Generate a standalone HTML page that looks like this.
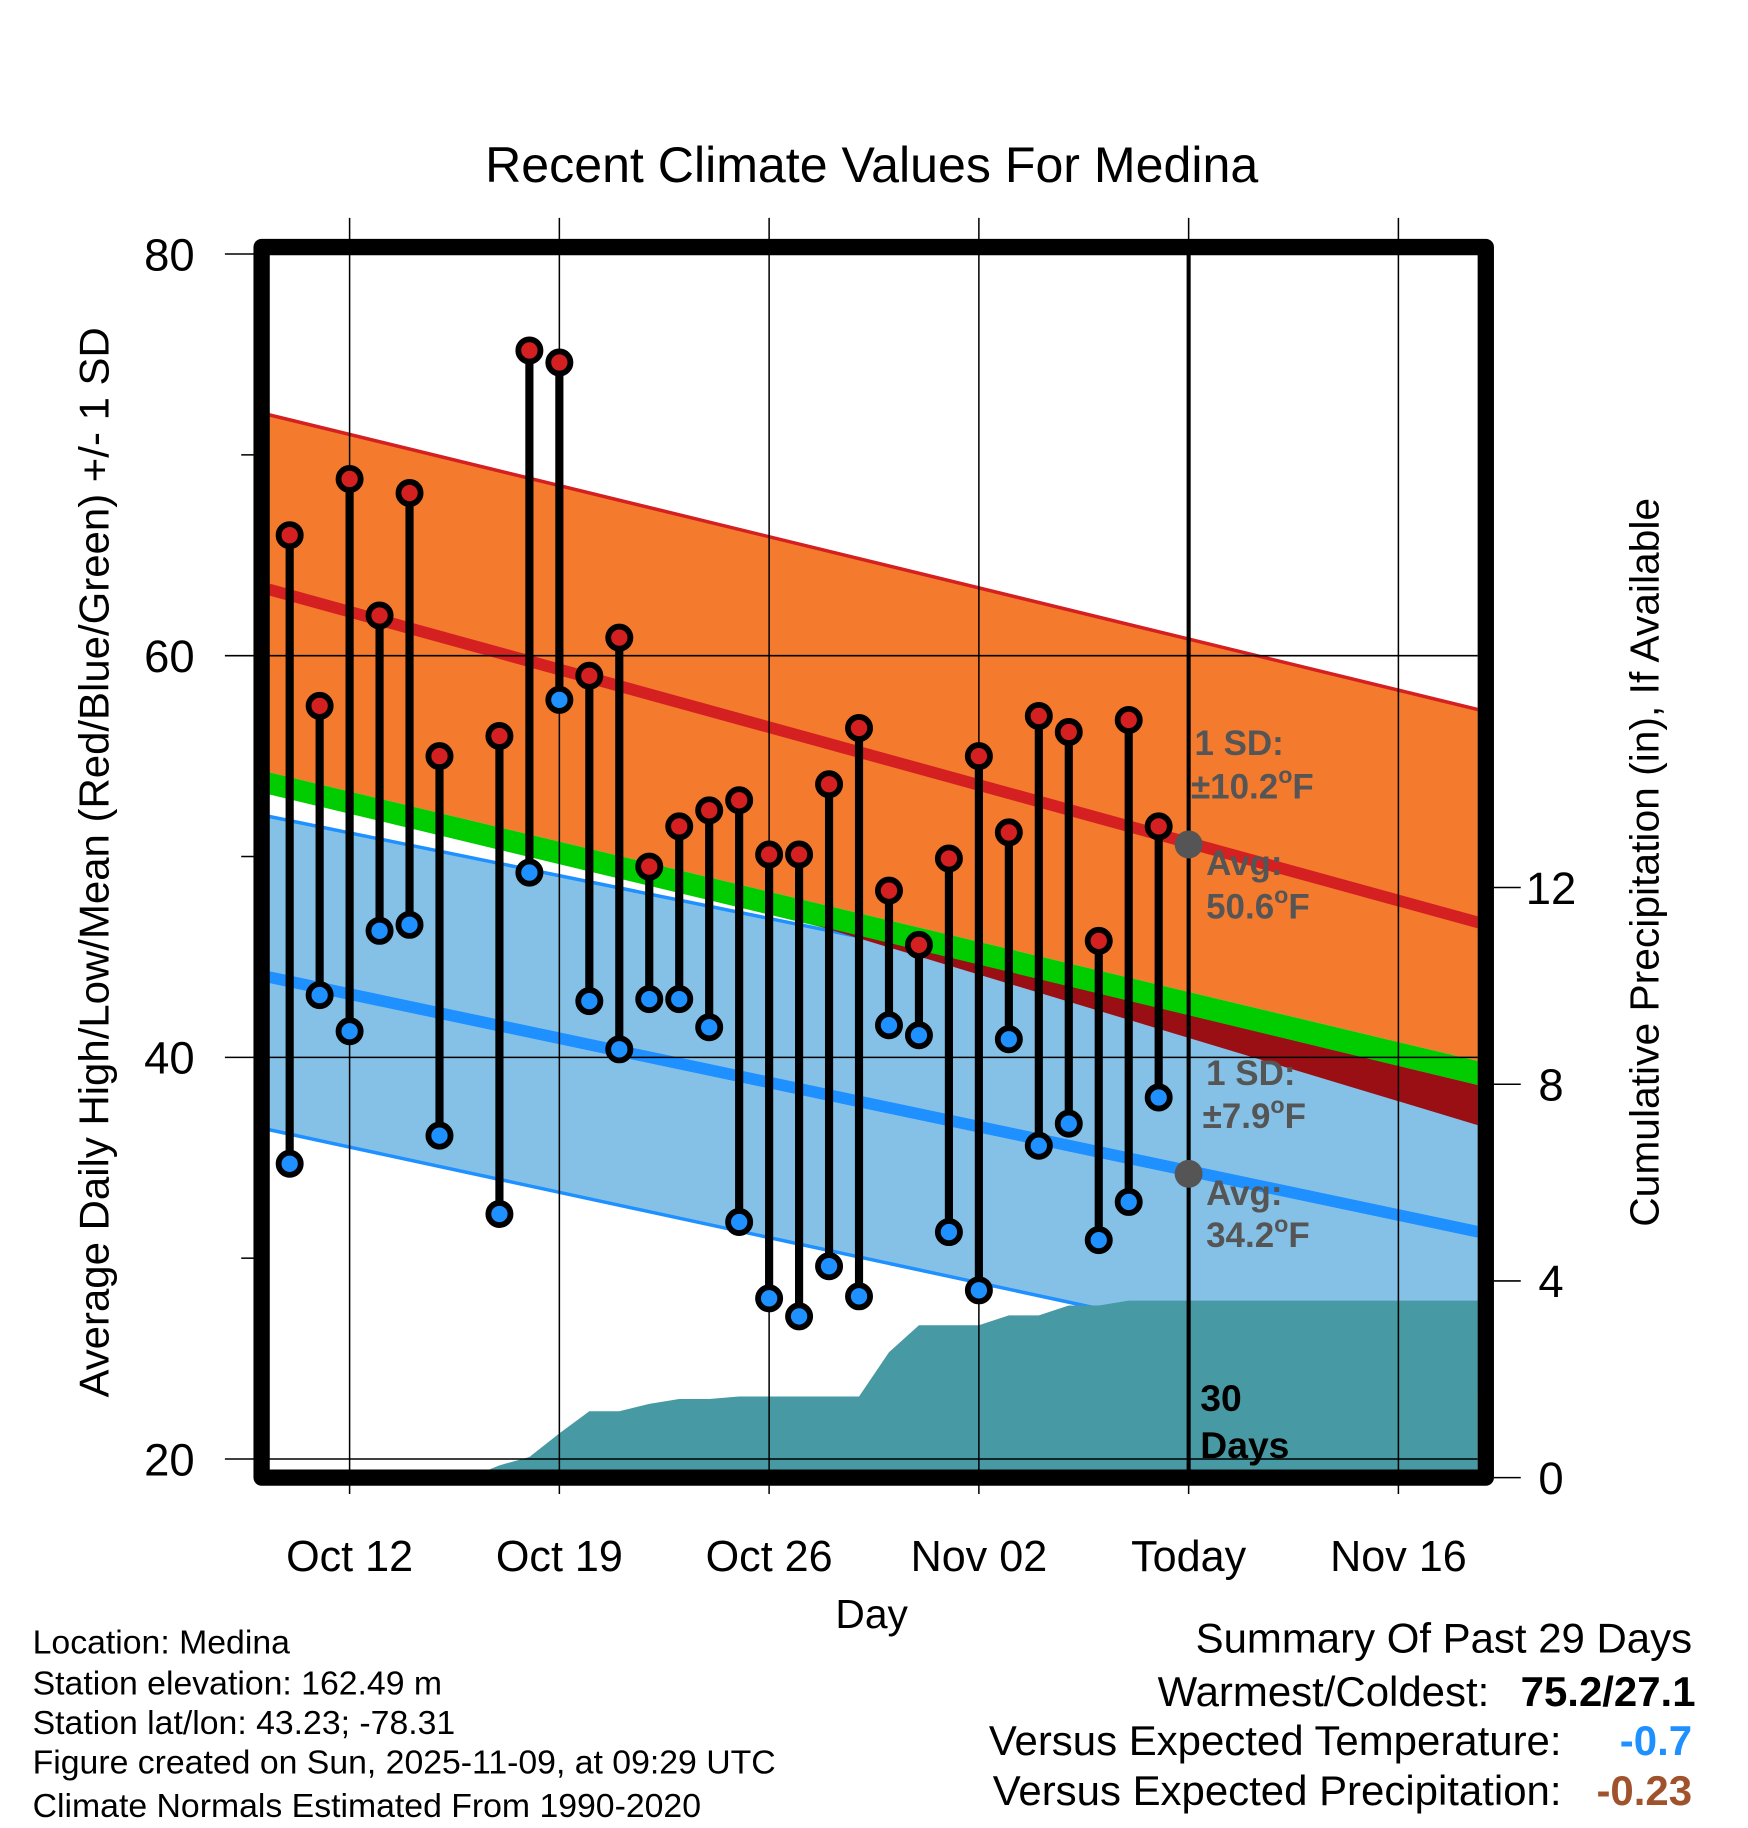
<!DOCTYPE html>
<html><head><meta charset="utf-8">
<style>
html,body{margin:0;padding:0;background:#fff;}
svg{display:block;}
text{font-family:"Liberation Sans",sans-serif;}
</style></head>
<body>
<svg id="chart" width="1748" height="1828" viewBox="0 0 1500 1568.65" preserveAspectRatio="none" xmlns="http://www.w3.org/2000/svg">
<defs><clipPath id="plotclip"><rect x="231" y="219" width="1037" height="1042"/></clipPath></defs>
<g id="bands" clip-path="url(#plotclip)"></g>
<g id="grid"></g>
<g id="marks"></g>
<rect x="224.5" y="212" width="1050.5" height="1056" fill="none" stroke="#000" stroke-width="14" stroke-linejoin="round"/>
<g id="axes"></g>
<text x="748" y="156" font-size="43" text-anchor="middle">Recent Climate Values For Medina</text>
<text x="748" y="1397" font-size="35" text-anchor="middle">Day</text>
<text transform="translate(93,740) rotate(-90)" font-size="36" text-anchor="middle">Average Daily High/Low/Mean (Red/Blue/Green) +/- 1 SD</text>
<text transform="translate(1423,740) rotate(-90)" font-size="35" text-anchor="middle">Cumulative Precipitation (in), If Available</text>
<g font-size="30" fill="#555" font-weight="bold">
<text x="1025" y="648">1 SD:</text>
<text x="1022" y="685">±10.2<tspan dy="-13" font-size="20">o</tspan><tspan dy="13">F</tspan></text>
<text x="1035" y="751">Avg:</text>
<text x="1035" y="788">50.6<tspan dy="-13" font-size="20">o</tspan><tspan dy="13">F</tspan></text>
<text x="1035" y="931">1 SD:</text>
<text x="1032" y="968">±7.9<tspan dy="-13" font-size="20">o</tspan><tspan dy="13">F</tspan></text>
<text x="1035" y="1034">Avg:</text>
<text x="1035" y="1070">34.2<tspan dy="-13" font-size="20">o</tspan><tspan dy="13">F</tspan></text>
</g>
<text x="1030" y="1211" font-size="32" font-weight="bold">30</text>
<text x="1030" y="1251" font-size="32" font-weight="bold">Days</text>
<g font-size="29">
<text x="28" y="1419">Location: Medina</text>
<text x="28" y="1454">Station elevation: 162.49 m</text>
<text x="28" y="1488">Station lat/lon: 43.23; -78.31</text>
<text x="28" y="1522">Figure created on Sun, 2025-11-09, at 09:29 UTC</text>
<text x="28" y="1559">Climate Normals Estimated From 1990-2020</text>
</g>
<g font-size="36">
<text x="1452" y="1418" text-anchor="end">Summary Of Past 29 Days</text>
<text x="1278" y="1464" text-anchor="end">Warmest/Coldest:</text>
<text x="1455" y="1464" text-anchor="end" font-weight="bold">75.2/27.1</text>
<text x="1340" y="1506" text-anchor="end">Versus Expected Temperature:</text>
<text x="1452" y="1506" text-anchor="end" font-weight="bold" fill="#1e90ff">-0.7</text>
<text x="1340" y="1549" text-anchor="end">Versus Expected Precipitation:</text>
<text x="1452" y="1549" text-anchor="end" font-weight="bold" fill="#a0522d">-0.23</text>
</g>
</svg>
<script>
// Data (days since Oct 12)
const dayIdx = [-2,-1,0,1,2,3,5,6,7,8,9,10,11,12,13,14,15,16,17,18,19,20,21,22,23,24,25,26,27];
const highs = [66,57.5,68.8,62.0,68.1,55.0,56.0,75.2,74.6,59.0,60.9,49.5,51.5,52.3,52.8,50.1,50.1,53.6,56.4,48.3,45.6,49.9,55.0,51.2,57.0,56.2,45.8,56.8,51.5];
const lows = [34.7,43.1,41.3,46.3,46.6,36.1,32.2,49.2,57.8,42.8,40.4,42.9,42.9,41.5,31.8,28.0,27.1,29.6,28.1,41.6,41.1,31.3,28.4,40.9,35.6,36.7,30.9,32.8,38.0];
const precipDays = [-2,-1,0,1,2,3,4,5,6,7,8,9,10,11,12,13,14,15,16,17,18,19,20,21,22,23,24,25,26,27,28,38];
const precipCum = [0,0,0,0,0,0,0,0.25,0.42,0.9,1.35,1.35,1.5,1.6,1.6,1.65,1.65,1.65,1.65,1.65,2.55,3.1,3.1,3.1,3.3,3.3,3.5,3.5,3.6,3.6,3.6,3.6];
const normDays = [-2.7,37.7];
const highUpper = [72.0,57.3];
const highAvg = [63.3,46.7];
const highLower = [54.2,39.8];
const greenLower = [53.1,38.6];
const lowUpper = [52.0,39.7];
const lowAvg = [44.0,31.3];
const lowLower = [36.4,23.4];
const darkRedDays = [15.5,37.7];
const darkRedTop = [46.6,38.6];
const darkRedBottom = [46.6,36.6];
const todayDay = 28;
const todayAvgs = [50.6,34.2];
const xTickDays = [0,7,14,21,28,35];
const xTickLabels = ['Oct 12','Oct 19','Oct 26','Nov 02','Today','Nov 16'];
const yTicks = [80,60,40,20];
const yMinor = [70,50,30];
const pTicks = [0,4,8,12];

const NS='http://www.w3.org/2000/svg';
const X = d => 300 + d*180/7;
const Y = v => 218 + (80-v)/60*1034;
const P = p => 1268 - p*42.2;
function mk(parent,tag,attrs){const e=document.createElementNS(NS,tag);for(const k in attrs)e.setAttribute(k,attrs[k]);parent.appendChild(e);return e;}
const bands=document.getElementById('bands'), grid=document.getElementById('grid'), marks=document.getElementById('marks'), axes=document.getElementById('axes');
function band(days,top,bot,fill,name){
  const pts=[];for(let i=0;i<days.length;i++)pts.push(X(days[i])+','+Y(top[i]));
  for(let i=days.length-1;i>=0;i--)pts.push(X(days[i])+','+Y(bot[i]));
  const e=mk(bands,'polygon',{points:pts.join(' '),fill:fill});
  
  
}
function line(days,vals,stroke,w,name){
  const pts=days.map((d,i)=>X(d)+','+Y(vals[i])).join(' ');
  const e=mk(bands,'polyline',{points:pts,fill:'none',stroke:stroke,'stroke-width':w});
  
  
}
band(normDays,lowUpper,lowLower,'#85c1e6','low-sd-band');
line(normDays,lowUpper,'#1e90ff',3,'low-upper-line');
line(normDays,lowLower,'#1e90ff',3,'low-lower-line');
band(normDays,highUpper,highLower,'#f47a2e','high-sd-band');
band(normDays,highLower,greenLower,'#00cc00','mean-band');
band(darkRedDays,darkRedTop,darkRedBottom,'#990f14','overlap-band');
line(normDays,highUpper,'#d42020',3,'high-upper-line');
line(normDays,highAvg,'#d42020',10,'high-avg-line');
line(normDays,lowAvg,'#1e90ff',10,'low-avg-line');
{
  const pts=[X(precipDays[0])+','+P(0)];
  precipDays.forEach((d,i)=>pts.push(X(d)+','+P(precipCum[i])));
  pts.push(X(precipDays[precipDays.length-1])+','+P(0));
  const e=mk(bands,'polygon',{points:pts.join(' '),fill:'#4799a3'});
  
  
}
xTickDays.forEach((d,i)=>{
  const e=mk(grid,'line',{x1:X(d),x2:X(d),y1:187,y2:1282,stroke:'#000','stroke-width':1.3});
  
  
  const t=mk(axes,'text',{x:X(d),y:1348,'font-size':37,'text-anchor':'middle'});
  t.textContent=xTickLabels[i];
  
  
});
yTicks.forEach(v=>{
  const e=mk(grid,'line',{x1:193,x2:1268,y1:Y(v),y2:Y(v),stroke:'#000','stroke-width':1.3});
  
  
  const t=mk(axes,'text',{x:167,y:Y(v)+14,'font-size':39,'text-anchor':'end'});
  t.textContent=v;
  
  
});
yMinor.forEach(v=>{
  const e=mk(axes,'line',{x1:207,x2:218,y1:Y(v),y2:Y(v),stroke:'#000','stroke-width':1.3});
  
  
});
pTicks.forEach(p=>{
  const e=mk(axes,'line',{x1:1282,x2:1305,y1:P(p),y2:P(p),stroke:'#000','stroke-width':1.3});
  
  
  const t=mk(axes,'text',{x:1331,y:P(p)+14,'font-size':39,'text-anchor':'middle'});
  t.textContent=p;
  
  
});
{
  const e=mk(marks,'line',{x1:X(todayDay),x2:X(todayDay),y1:212,y2:1262,stroke:'#000','stroke-width':3.5});
  
  
}
dayIdx.forEach((d,i)=>{
  const s=mk(marks,'line',{x1:X(d),x2:X(d),y1:Y(highs[i]),y2:Y(lows[i]),stroke:'#000','stroke-width':7});
  
  
});
dayIdx.forEach((d,i)=>{
  const h=mk(marks,'circle',{cx:X(d),cy:Y(highs[i]),r:9.5,fill:'#d42020',stroke:'#000','stroke-width':5});
  
  
  const l=mk(marks,'circle',{cx:X(d),cy:Y(lows[i]),r:9.5,fill:'#1e90ff',stroke:'#000','stroke-width':5});
  
  
});
todayAvgs.forEach(v=>{
  const c=mk(marks,'circle',{cx:X(todayDay),cy:Y(v),r:12,fill:'#555'});
  
  
});
</script>
</body></html>
